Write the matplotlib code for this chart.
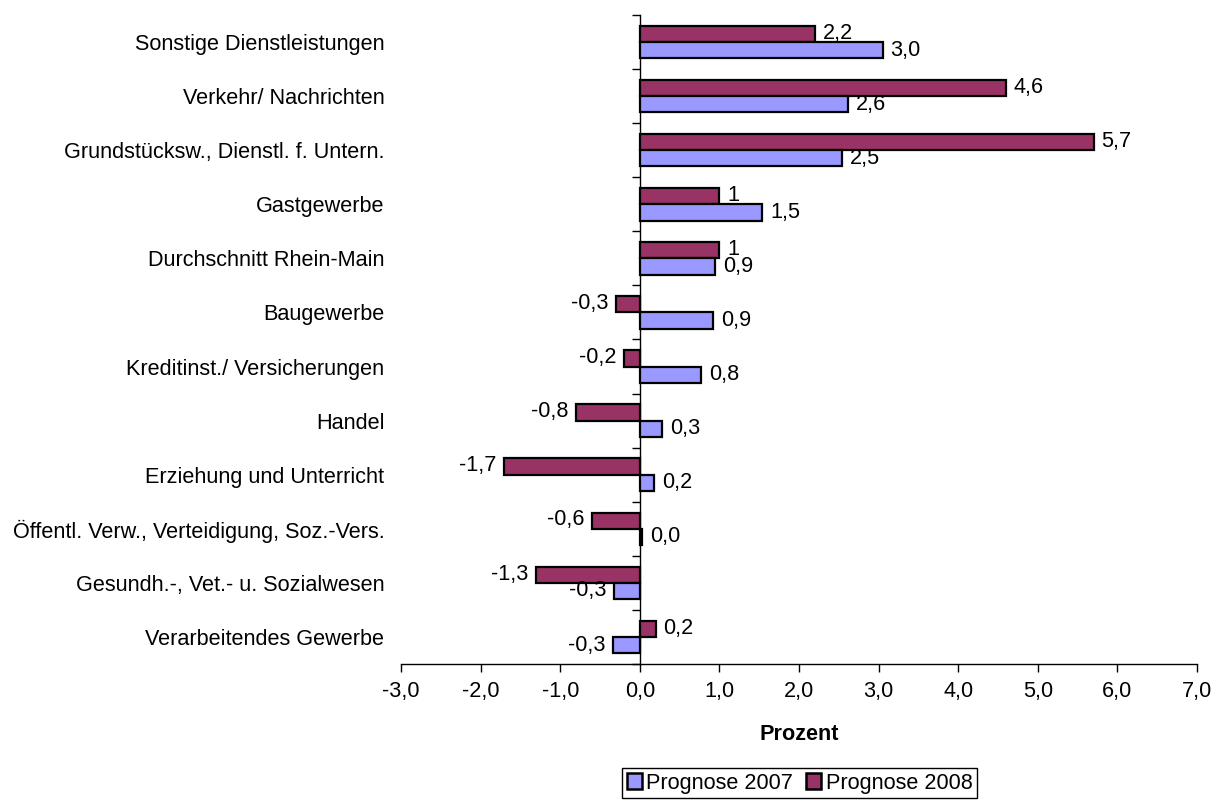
import matplotlib
matplotlib.use("Agg")
import matplotlib.pyplot as plt
from matplotlib.patches import Patch

plt.rcParams['font.family'] = ['Liberation Sans', 'DejaVu Sans']

categories = [
    "Sonstige Dienstleistungen",
    "Verkehr/ Nachrichten",
    "Grundstücksw., Dienstl. f. Untern.",
    "Gastgewerbe",
    "Durchschnitt Rhein-Main",
    "Baugewerbe",
    "Kreditinst./ Versicherungen",
    "Handel",
    "Erziehung und Unterricht",
    "Öffentl. Verw., Verteidigung, Soz.-Vers.",
    "Gesundh.-, Vet.- u. Sozialwesen",
    "Verarbeitendes Gewerbe",
]
prognose_2007 = [3.05, 2.62, 2.54, 1.54, 0.95, 0.92, 0.77, 0.28, 0.18, 0.03, -0.32, -0.34]
prognose_2008 = [2.2, 4.6, 5.7, 1, 1, -0.3, -0.2, -0.8, -1.7, -0.6, -1.3, 0.2]
x_ticks = [-3, -2, -1, 0, 1, 2, 3, 4, 5, 6, 7]
series_names = ["Prognose 2007", "Prognose 2008"]

c2007 = "#9999FF"
c2008 = "#993366"

def fmt_2007(v):
    return f"{v:.1f}".replace(".", ",")

def fmt_2008(v):
    return f"{v:g}".replace(".", ",")

fig = plt.figure(figsize=(12.16, 8.05), dpi=100)
ax = fig.add_axes([401/1216, 1-664/805, (1197-401)/1216, (664-15)/805])

n = len(categories)
ys = list(range(n))
h = 0.3
fs = 15.6

y08 = [y - h/2 for y in ys]
y07 = [y + h/2 for y in ys]
ax.barh(y08, prognose_2008, height=h, color=c2008, edgecolor="black", linewidth=1.6, zorder=3)
ax.barh(y07, prognose_2007, height=h, color=c2007, edgecolor="black", linewidth=1.6, zorder=3)

for y, v in zip(y08, prognose_2008):
    ax.annotate(fmt_2008(v), (v, y), xytext=(5.5 if v >= 0 else -5.5, 0.5), textcoords="offset points",
                ha="left" if v >= 0 else "right", va="center", fontsize=fs)
for y, v in zip(y07, prognose_2007):
    ax.annotate(fmt_2007(v), (v, y), xytext=(5.5 if v >= 0 else -5.5, 0), textcoords="offset points",
                ha="left" if v >= 0 else "right", va="center", fontsize=fs)

ax.set_xlim(-3, 7)
ax.set_ylim(n - 0.5, -0.5)
ax.set_xticks(x_ticks)
ax.set_xticklabels([f"{t:.1f}".replace(".", ",") for t in x_ticks], fontsize=fs)
ax.tick_params(axis="x", direction="out", length=6, width=1, pad=6)

ax.set_yticks(ys)
ax.set_yticklabels(categories, fontsize=fs)
ax.tick_params(axis="y", length=0, pad=12)

for s in ["top", "right", "left"]:
    ax.spines[s].set_visible(False)
ax.spines["bottom"].set_linewidth(1)

sec = ax.secondary_yaxis(0.3)
sec.set_yticks([y - 0.5 for y in range(n + 1)])
sec.set_yticklabels([])
sec.tick_params(axis="y", direction="out", length=6, width=1)
sec.spines["left"].set_linewidth(1)

ax.set_xlabel("Prozent", fontsize=fs, fontweight="bold", labelpad=16)

handles = [Patch(facecolor=c2007, edgecolor="black", linewidth=1.8),
           Patch(facecolor=c2008, edgecolor="black", linewidth=1.8)]
leg = fig.legend(handles, series_names, loc="center", bbox_to_anchor=(799.5/1216, 1-783/805),
                 ncol=2, fontsize=fs, frameon=True, fancybox=False, framealpha=1,
                 handlelength=0.7, handleheight=0.7, handletextpad=0.2, columnspacing=0.6,
                 borderpad=0.2, borderaxespad=0)
leg.get_frame().set_edgecolor("black")
leg.get_frame().set_linewidth(1)

fig.savefig("out.png", dpi=100)
